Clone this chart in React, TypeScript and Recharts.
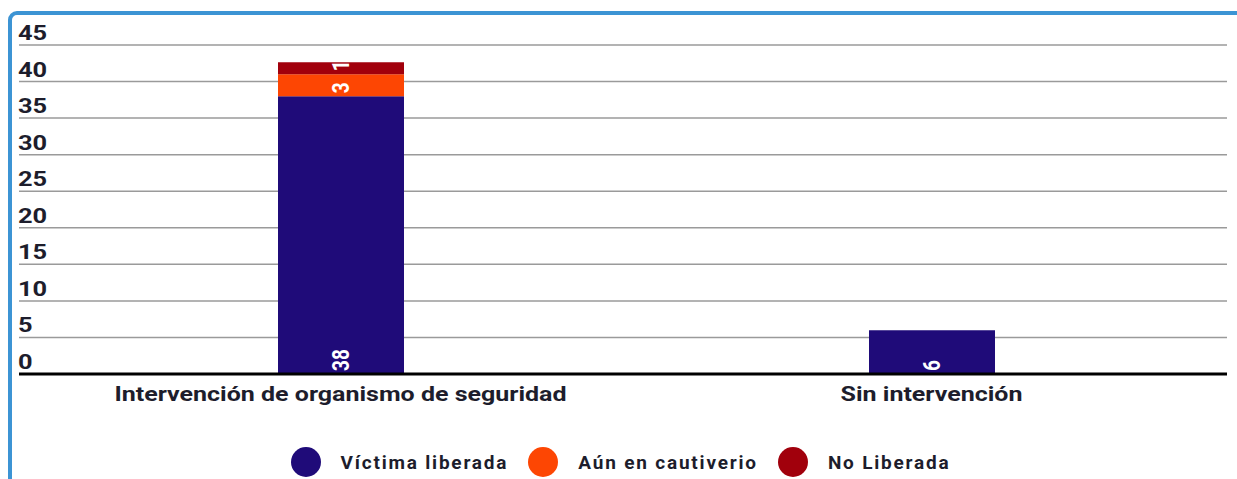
import React from 'react';
import { BarChart, Bar, XAxis, YAxis, CartesianGrid, Legend, LabelList } from 'recharts';

const categories = ['Intervención de organismo de seguridad', 'Sin intervención'];
const liberada = [38, 6];
const cautiverio = [3, 0];
const noLiberada = [1, 0];
const yTicks = [0, 5, 10, 15, 20, 25, 30, 35, 40, 45];

const series = [
  { key: 'liberada', name: 'Víctima liberada', color: '#1f0b79' },
  { key: 'cautiverio', name: 'Aún en cautiverio', color: '#fd4603' },
  { key: 'noLiberada', name: 'No Liberada', color: '#a1000c' },
];

const data = categories.map((c, i) => ({
  name: c,
  liberada: liberada[i],
  cautiverio: cautiverio[i],
  noLiberada: noLiberada[i],
}));

const FONT = 'Roboto, "Noto Sans", sans-serif';
const STRETCH = 1.25; // the source picture is stretched sideways

const renderYTick = (props: any) => {
  const { y, payload } = props;
  return (
    <text
      transform={`translate(18 ${y - 5}) scale(1.27 1)`}
      fill="#1d1d2c"
      fontFamily={FONT}
      fontWeight={700}
      fontSize={20}
    >
      {payload.value}
    </text>
  );
};

const renderXTick = (props: any) => {
  const { x, y, payload } = props;
  return (
    <text
      transform={`translate(${x} ${y + 18}) scale(${STRETCH} 1)`}
      textAnchor="middle"
      dominantBaseline="central"
      fill="#1d1d2c"
      fontFamily={FONT}
      fontWeight={700}
      fontSize={20}
    >
      {payload.value}
    </text>
  );
};

const BarLabel = (props: any) => {
  const { x, y, width, height, value } = props;
  if (!value) return null;
  const cx = x + width / 2;
  const by = y + height - 3;
  return (
    <text
      transform={`translate(${cx} ${by}) scale(${STRETCH} 1) rotate(-90)`}
      textAnchor="start"
      dominantBaseline="central"
      fill="#ffffff"
      fontFamily={FONT}
      fontWeight={700}
      fontSize={19}
    >
      {value}
    </text>
  );
};

const LegendContent = () => (
  <div style={{ display: 'flex', justifyContent: 'center', alignItems: 'center', height: 30, paddingLeft: 16 }}>
    {series.map((s) => (
      <div key={s.key} style={{ display: 'flex', alignItems: 'center', marginRight: 20 }}>
        <span style={{ width: 30, height: 30, borderRadius: '50%', background: s.color, display: 'inline-block', marginRight: 20 }} />
        <span style={{ fontFamily: FONT, fontWeight: 700, fontSize: 19, letterSpacing: 1.8, color: '#1d1d2c' }}>{s.name}</span>
      </div>
    ))}
  </div>
);

export default function App() {
  return (
    <div style={{ position: 'absolute', left: 0, top: 0, width: 1237, height: 479, overflow: 'hidden', background: '#ffffff' }}>
      <div
        style={{
          position: 'absolute',
          left: 8,
          top: 11,
          width: 1300,
          height: 600,
          border: '4px solid #3c94d4',
          borderRadius: 9,
          boxSizing: 'border-box',
        }}
      />
      <div style={{ position: 'absolute', left: 0, top: 0 }}>
        <BarChart width={1237} height={479} data={data} margin={{ top: 45, right: 10, left: 18, bottom: 2 }}>
          <CartesianGrid vertical={false} stroke="#9a9a9a" strokeWidth={1.5} />
          <YAxis
            domain={[0, 45]}
            ticks={yTicks}
            width={1}
            axisLine={false}
            tickLine={false}
            tick={renderYTick}
            interval={0}
          />
          <XAxis
            dataKey="name"
            height={73}
            padding={{ left: 26, right: 0 }}
            axisLine={{ stroke: '#000000', strokeWidth: 3 }}
            tickLine={false}
            tickSize={0}
            tick={renderXTick}
            interval={0}
          />
          <Legend verticalAlign="bottom" height={30} content={<LegendContent />} />
          {series.map((s) => (
            <Bar
              key={s.key}
              dataKey={s.key}
              name={s.name}
              stackId="a"
              fill={s.color}
              barSize={126}
              isAnimationActive={false}
              minPointSize={s.key === 'noLiberada' ? ((_v: any, i: number) => (noLiberada[i] > 0 ? 12 : 0)) as any : 0}
            >
              <LabelList dataKey={s.key} content={<BarLabel />} />
            </Bar>
          ))}
        </BarChart>
      </div>
    </div>
  );
}
